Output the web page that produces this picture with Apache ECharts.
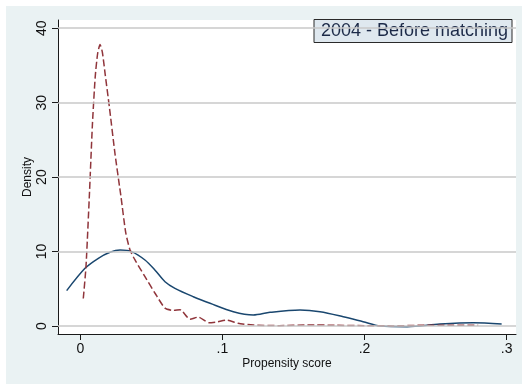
<!DOCTYPE html>
<html>
<head>
<meta charset="utf-8">
<script src="https://cdn.jsdelivr.net/npm/echarts@6/dist/echarts.min.js"></script>
<style>
  html, body { margin: 0; padding: 0; background: #ffffff; }
  #panel { position: absolute; left: 6px; top: 6px; width: 516px; height: 378px; background: #eaf2f3; }
  #chart { position: absolute; left: 0; top: 0; width: 522px; height: 384px; }
</style>
</head>
<body>
<div id="panel"></div>
<div id="chart"></div>
<script>
// Kernel density of the propensity score, 2004, before matching
const solidScore = [-0.0096, 0.0033, 0.0127, 0.0209, 0.028, 0.036, 0.0455, 0.0526, 0.0596, 0.0666,
  0.0795, 0.0913, 0.1077, 0.1217, 0.1335, 0.1546, 0.1687, 0.185, 0.199, 0.211, 0.23, 0.253, 0.2766, 0.2965];
const solidDensity = [4.75, 7.75, 9.1, 9.9, 10.2, 10.0, 8.87, 7.5, 5.95, 5.06,
  3.94, 3.05, 1.92, 1.48, 1.84, 2.15, 1.92, 1.25, 0.58, 0.0, -0.08, 0.27, 0.45, 0.27];

const dashedScore = [0.0021, 0.004, 0.0063, 0.0085, 0.0105, 0.0122, 0.0139, 0.0155, 0.0175, 0.0204,
  0.0245, 0.0286, 0.032, 0.035, 0.0385, 0.0455, 0.0526, 0.0596, 0.0655, 0.0702, 0.0772, 0.083,
  0.0905, 0.096, 0.103, 0.111, 0.1217, 0.14, 0.16, 0.18, 0.2, 0.22, 0.24, 0.26, 0.28];
const dashedDensity = [3.7, 8.0, 17.2, 27.0, 33.5, 36.6, 37.8, 36.8, 33.8, 29.5,
  23.0, 17.4, 12.5, 10.2, 8.87, 6.63, 4.4, 2.4, 2.1, 2.2, 0.9, 1.2,
  0.45, 0.55, 0.8, 0.36, 0.13, 0.05, 0.15, 0.1, 0.05, 0.02, 0.1, 0.12, 0.1];

const xTicks = [0, 0.1, 0.2, 0.3];
const yTicks = [0, 10, 20, 30, 40];
const boxText = '2004 - Before matching';
const xTitle = 'Propensity score';
const yTitle = 'Density';

const FONT = '"Liberation Sans", Arial, sans-serif';
const pairs = (xs, ys) => xs.map((x, i) => [x, ys[i]]);

const chart = echarts.init(document.getElementById('chart'), null, { renderer: 'canvas' });
chart.setOption({
  backgroundColor: 'transparent',
  animation: false,
  grid: { left: 58, right: 6, top: 20, bottom: 50, show: true, backgroundColor: '#ffffff', borderWidth: 0 },
  xAxis: {
    type: 'value', min: -0.0157, max: 0.3066,
    name: xTitle, nameLocation: 'middle', nameGap: 24, nameMoveOverlap: false,
    nameTextStyle: { fontFamily: FONT, fontSize: 12, color: '#111' },
    axisLine: { onZero: false, lineStyle: { color: '#1a1a1a', width: 1 } },
    axisTick: { customValues: xTicks, length: 6, lineStyle: { color: '#1a1a1a' } },
    axisLabel: {
      customValues: xTicks, margin: 8, fontFamily: FONT, fontSize: 14, color: '#111',
      formatter: v => v === 0 ? '0' : String(v).replace(/^0/, '')
    },
    splitLine: { show: false }
  },
  yAxis: {
    type: 'value', min: -1.07, max: 41.1,
    name: yTitle, nameLocation: 'middle', nameGap: 24, nameRotate: 90, nameMoveOverlap: false,
    nameTextStyle: { fontFamily: FONT, fontSize: 12, color: '#111' },
    axisLine: { onZero: false, lineStyle: { color: '#1a1a1a', width: 1 } },
    axisTick: { customValues: yTicks, length: 6, lineStyle: { color: '#1a1a1a' } },
    axisLabel: { customValues: yTicks, rotate: 90, margin: 9, fontFamily: FONT, fontSize: 14, color: '#111' },
    splitLine: { show: false }
  },
  graphic: [{
    type: 'group', z: 20,
    children: [
      { type: 'rect', shape: { x: 314, y: 19.5, width: 198, height: 23 },
        style: { fill: '#dfe8ef', stroke: '#2a2a2a', lineWidth: 1 } },
      { type: 'text', x: 321, y: 31.5,
        style: { text: boxText, fill: '#1c2a48', font: '18px ' + FONT, verticalAlign: 'middle' } }
    ]
  }],
  series: [
    {
      type: 'line', data: [], z: 1, silent: true,
      markLine: {
        silent: true, symbol: 'none', label: { show: false },
        lineStyle: { color: '#c8c8c8', width: 1.5, type: 'solid' },
        data: yTicks.map(v => ({ yAxis: v }))
      }
    },
    {
      type: 'line', data: pairs(solidScore, solidDensity), smooth: 0.3,
      showSymbol: false, z: 3,
      lineStyle: { color: '#1a476f', width: 1.5 }
    },
    {
      type: 'line', data: pairs(dashedScore, dashedDensity), smooth: 0.2,
      showSymbol: false, z: 4,
      lineStyle: { color: '#90353b', width: 1.5, type: [7, 3] }
    }
  ]
});
</script>
</body>
</html>
